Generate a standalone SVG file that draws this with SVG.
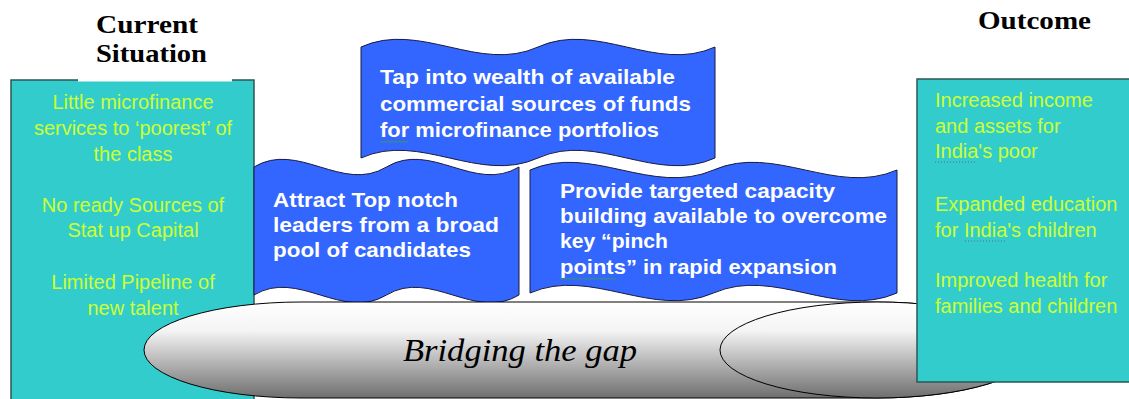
<svg xmlns="http://www.w3.org/2000/svg" width="1129" height="399" viewBox="0 0 1129 399">
  <defs>
    <linearGradient id="gCyl" x1="0" y1="0" x2="0" y2="1">
      <stop offset="0" stop-color="#ffffff"/>
      <stop offset="0.3" stop-color="#f4f4f4"/>
      <stop offset="1" stop-color="#6e6e6e"/>
    </linearGradient>
    <style>
      .box { fill: #33CCCC; stroke: #2f5555; stroke-width: 1.5; }
      .boxtxt { font-family: "Liberation Sans", Arial, sans-serif; font-size: 20px; fill: #CCFF33; }
      .title { font-family: "Liberation Serif", "Times New Roman", serif; font-size: 25px; font-weight: bold; fill: #000; }
      .banner { fill: #3366FF; stroke: #1a1a40; stroke-width: 1; }
      .btxt { font-family: "Liberation Sans", Arial, sans-serif; font-size: 21px; font-weight: bold; fill: #ffffff; }
      .cyl { fill: url(#gCyl); stroke: #000; stroke-width: 1; }
      .cyltxt { font-family: "Liberation Serif", "Times New Roman", serif; font-size: 32px; font-style: italic; fill: #000; }
      .dot { stroke: #5a6a8a; stroke-width: 1; stroke-dasharray: 1 2; fill: none; }
      .wavy { stroke: #3a9a5a; stroke-width: 1; fill: none; }
    </style>
  </defs>
  <rect x="0" y="0" width="1129" height="399" fill="#ffffff"/>

  <g id="current-situation">
    <rect class="box" x="11" y="80" width="243" height="330"/>
    <rect x="78" y="0" width="154" height="81.5" fill="#ffffff"/>
    <text class="title" x="96" y="33" textLength="102" lengthAdjust="spacingAndGlyphs">Current</text>
    <text class="title" x="96" y="62" textLength="111" lengthAdjust="spacingAndGlyphs">Situation</text>
    <g class="boxtxt" text-anchor="middle">
      <text x="133" y="109">Little microfinance</text>
      <text x="133" y="135">services to ‘poorest’ of</text>
      <text x="133" y="161">the class</text>
      <text x="133" y="212">No ready Sources of</text>
      <text x="133" y="237">Stat up Capital</text>
      <text x="133" y="289">Limited Pipeline of</text>
      <text x="133" y="315">new talent</text>
    </g>
  </g>

  <g id="banner-funds">
    <path class="banner" d="M361,47 C420,20.3 479,73.7 538,47 C597,20.3 656,73.7 715,47 L715,158 C656,184.7 597,131.3 538,158 C479,184.7 420,131.3 361,158 Z"/>
    <text class="btxt" x="380" y="84" textLength="295" lengthAdjust="spacingAndGlyphs">Tap into wealth of available</text>
    <text class="btxt" x="380" y="111" textLength="311" lengthAdjust="spacingAndGlyphs">commercial sources of funds</text>
    <text class="btxt" x="380" y="137" textLength="279" lengthAdjust="spacingAndGlyphs">for microfinance portfolios</text>
    <path class="wavy" d="M380,141 l2,1.5 l2,-1.5 l2,1.5 l2,-1.5 l2,1.5 l2,-1.5 l2,1.5 l2,-1.5 l2,1.5 l2,-1.5 l2,1.5 l2,-1.5 l2,1.5 l2,-1.5"/>
  </g>

  <g id="banner-leaders">
    <path class="banner" d="M254,167 C298.2,140.3 342.3,193.7 386.5,167 C430.7,140.3 474.8,193.7 519,167 L519,295 C474.8,321.7 430.7,268.3 386.5,295 C342.3,321.7 298.2,268.3 254,295 Z"/>
    <text class="btxt" x="273" y="207" textLength="185" lengthAdjust="spacingAndGlyphs">Attract Top notch</text>
    <text class="btxt" x="273" y="232" textLength="226" lengthAdjust="spacingAndGlyphs">leaders from a broad</text>
    <text class="btxt" x="273" y="257" textLength="198" lengthAdjust="spacingAndGlyphs">pool of candidates</text>
  </g>

  <g id="banner-capacity">
    <path class="banner" d="M530,170 C591.2,143.3 652.3,196.7 713.5,170 C774.7,143.3 835.8,196.7 897,170 L897,293 C835.8,319.7 774.7,266.3 713.5,293 C652.3,319.7 591.2,266.3 530,293 Z"/>
    <text class="btxt" x="560" y="198" textLength="275" lengthAdjust="spacingAndGlyphs">Provide targeted capacity</text>
    <text class="btxt" x="560" y="223" textLength="327" lengthAdjust="spacingAndGlyphs">building available to overcome</text>
    <text class="btxt" x="560" y="248" textLength="108" lengthAdjust="spacingAndGlyphs">key “pinch</text>
    <text class="btxt" x="560" y="274" textLength="277" lengthAdjust="spacingAndGlyphs">points” in rapid expansion</text>
    <path class="wavy" d="M560,278 l2,1.5 l2,-1.5 l2,1.5 l2,-1.5 l2,1.5 l2,-1.5 l2,1.5 l2,-1.5 l2,1.5 l2,-1.5 l2,1.5 l2,-1.5 l2,1.5 l2,-1.5 l2,1.5 l2,-1.5 l2,1.5 l2,-1.5 l2,1.5 l2,-1.5 l2,1.5 l2,-1.5 l2,1.5 l2,-1.5 l2,1.5 l2,-1.5 l2,1.5 l2,-1.5"/>
  </g>

  <g id="bridging-the-gap">
    <path class="cyl" d="M301,302 L877,302 A157,48 0 0 1 877,398 L301,398 A157,48 0 0 1 301,302 Z"/>
    <ellipse class="cyl" cx="877" cy="350" rx="157" ry="48"/>
    <text class="cyltxt" x="403" y="361" textLength="234" lengthAdjust="spacingAndGlyphs">Bridging the gap</text>
  </g>

  <g id="outcome">
    <text class="title" x="978" y="29" textLength="113" lengthAdjust="spacingAndGlyphs">Outcome</text>
    <rect class="box" x="917" y="79" width="230" height="303"/>
    <g class="boxtxt">
      <text x="935" y="107">Increased income</text>
      <text x="935" y="133">and assets for</text>
      <text x="935" y="158">India's poor</text>
      <text x="935" y="211">Expanded education</text>
      <text x="935" y="237">for India's children</text>
      <text x="935" y="287">Improved health for</text>
      <text x="935" y="313">families and children</text>
    </g>
    <path class="dot" d="M935,162 H977"/>
    <path class="dot" d="M965,241 H1006"/>
  </g>

  <g id="connectors"></g>
</svg>
